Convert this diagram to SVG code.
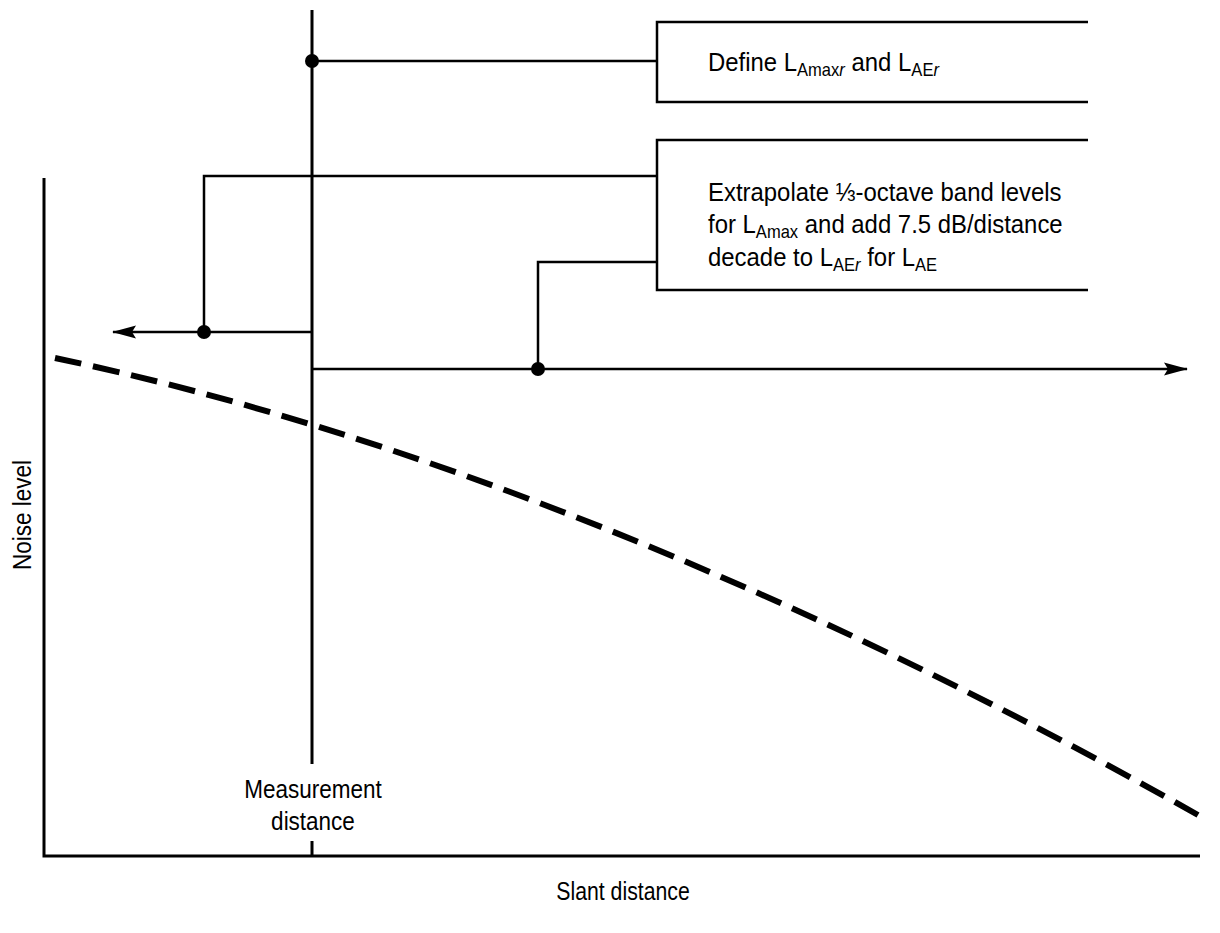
<svg xmlns="http://www.w3.org/2000/svg" width="1220" height="933" viewBox="0 0 1220 933">
<style>
  .ln{stroke:#000;stroke-width:2.5;fill:none}
  .ax{stroke:#000;stroke-width:3;fill:none}
  .t{font-family:"Liberation Sans",Arial,sans-serif;font-size:26px;fill:#000}
  .s{font-family:"Liberation Sans",Arial,sans-serif;font-size:25px;fill:#000}
  .sub{font-size:18px}
  .it{font-style:italic}
</style>
<defs>
  <marker id="ah" viewBox="0 0 24 14" refX="23" refY="7" markerWidth="24" markerHeight="14" markerUnits="userSpaceOnUse" orient="auto">
    <path d="M0,0.5 L24,7 L0,13.5 L4,7 Z" fill="#000"/>
  </marker>
</defs>
<rect width="1220" height="933" fill="#fff"/>

<g id="axes">
  <path class="ax" d="M44,178 V856 H1200"/>
  <text class="s" transform="translate(31,515) rotate(-90) scale(0.9,1)" text-anchor="middle">Noise level</text>
  <text class="s" transform="translate(623,900) scale(0.85,1)" text-anchor="middle">Slant distance</text>
</g>

<g id="measurement">
  <path class="ax" d="M312,10 V764 M312,841 V856"/>
  <text class="s" transform="translate(313,798) scale(0.9,1)" text-anchor="middle">Measurement</text>
  <text class="s" transform="translate(313,830) scale(0.9,1)" text-anchor="middle">distance</text>
</g>

<g id="curve">
  <path d="M55,358 C400,430 800,590 1198,815" stroke="#000" stroke-width="6" fill="none" stroke-dasharray="27,12"/>
</g>

<g id="box-define">
  <path class="ln" d="M1088,22 H657 V102 H1088"/>
  <text class="t" transform="translate(708,71) scale(0.92,1)">Define L<tspan class="sub" dy="5">Amax</tspan><tspan class="sub it">r</tspan><tspan dy="-5"> and L</tspan><tspan class="sub" dy="5">AE</tspan><tspan class="sub it">r</tspan></text>
</g>

<g id="box-extrapolate">
  <path class="ln" d="M1088,140 H657 V290 H1088"/>
  <text class="t" transform="translate(708,201) scale(0.92,1)">Extrapolate ⅓-octave band levels</text>
  <text class="t" transform="translate(708,233) scale(0.92,1)">for L<tspan class="sub" dy="5">Amax</tspan><tspan dy="-5"> and add 7.5 dB/distance</tspan></text>
  <text class="t" transform="translate(708,266) scale(0.92,1)">decade to L<tspan class="sub" dy="5">AE</tspan><tspan class="sub it">r</tspan><tspan dy="-5"> for L</tspan><tspan class="sub" dy="5">AE</tspan></text>
</g>

<g id="connectors">
  <path class="ln" d="M312,61 H657"/>
  <path class="ln" d="M657,176 H204 V332"/>
  <path class="ln" d="M657,262 H538 V369"/>
  <path class="ln" d="M312,332 H113" marker-end="url(#ah)"/>
  <path class="ln" d="M312,369 H1187" marker-end="url(#ah)"/>
  <circle cx="312" cy="61" r="7" fill="#000"/>
  <circle cx="204" cy="332" r="7" fill="#000"/>
  <circle cx="538" cy="369" r="7" fill="#000"/>
</g>
</svg>
